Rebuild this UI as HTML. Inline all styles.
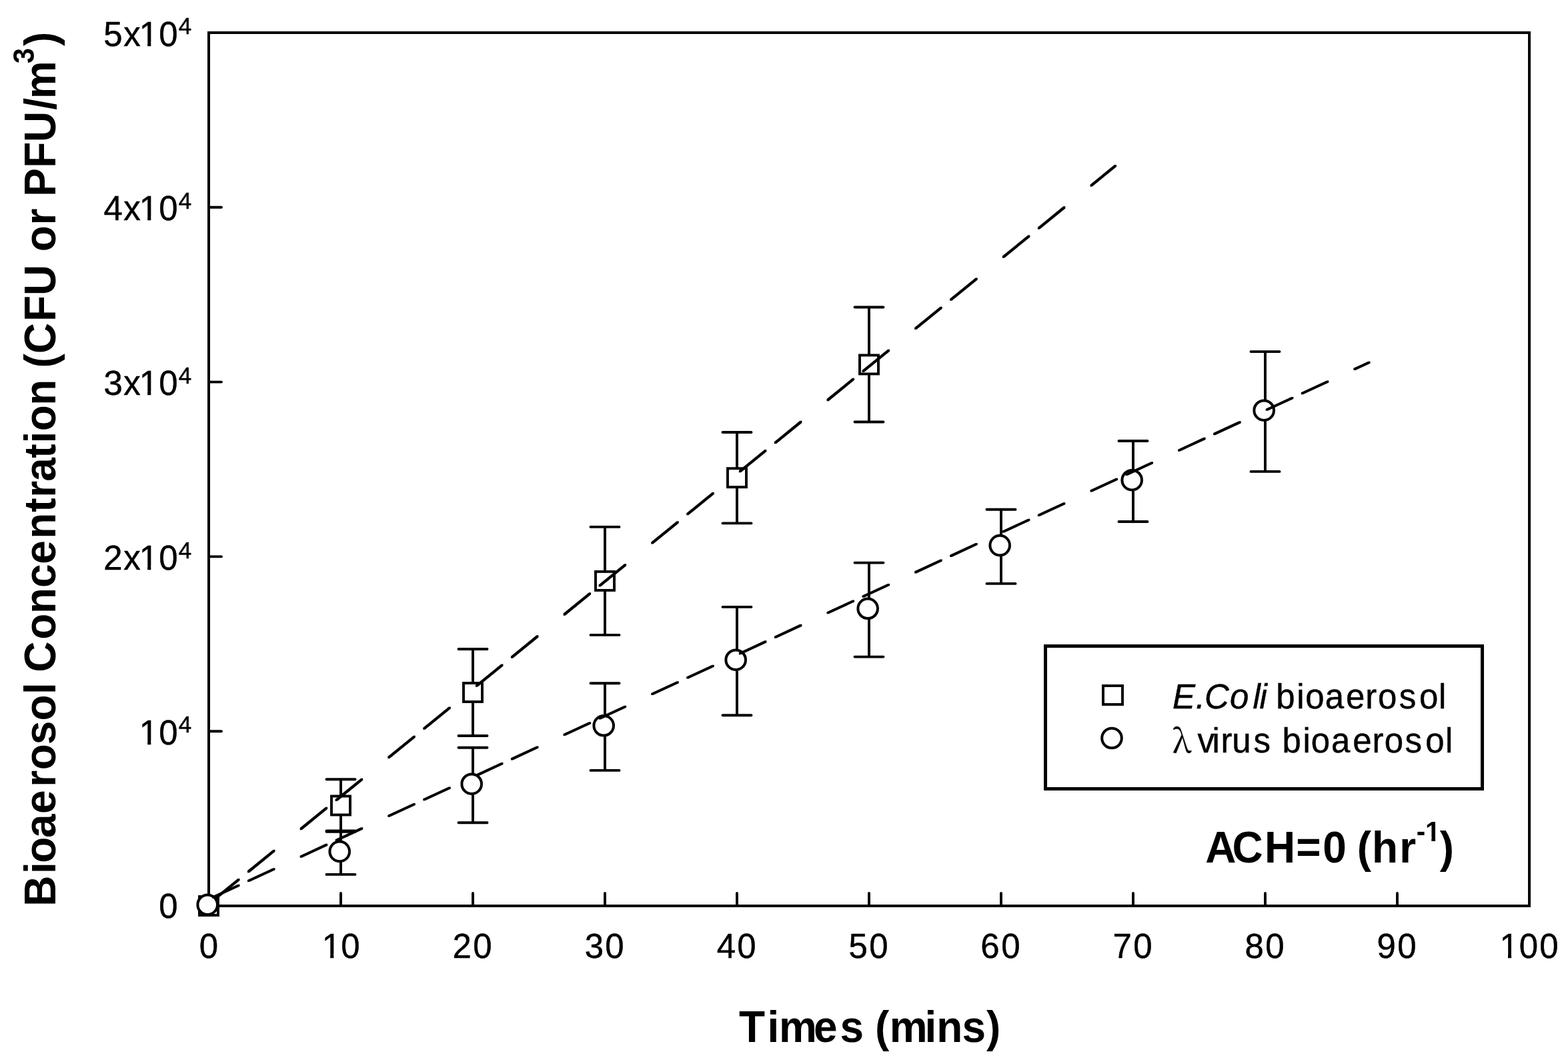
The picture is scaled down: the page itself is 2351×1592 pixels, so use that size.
<!DOCTYPE html><html><head><meta charset="utf-8"><title>Bioaerosol Concentration</title><style>html,body{margin:0;padding:0;background:#fff;}svg{display:block;}text{font-family:"Liberation Sans",Arial,sans-serif;fill:#000;}</style></head><body>
<svg width="2351" height="1592" viewBox="0 0 2351 1592">
<rect x="0" y="0" width="2351" height="1592" fill="#fff"/>
<rect x="313" y="49" width="1980" height="1309" fill="none" stroke="#000" stroke-width="4" stroke-linejoin="miter"/>
<path d="M511.0 1358V1339M709.0 1358V1339M907.0 1358V1339M1105.0 1358V1339M1303.0 1358V1339M1501.0 1358V1339M1699.0 1358V1339M1897.0 1358V1339M2095.0 1358V1339M313 1096.2H332M313 834.4H332M313 572.6H332M313 310.8H332" stroke="#000" stroke-width="3.9" stroke-linecap="round" fill="none"/>
<text xml:space="preserve" transform="matrix(1 0 0 1.0150 0 -21.534)" stroke="#000" stroke-width="0.45"><tspan x="298.82" y="1435.60" font-size="51">0</tspan></text>
<text xml:space="preserve" transform="matrix(1 0 0 1.0150 0 -21.534)" stroke="#000" stroke-width="0.45"><tspan x="482.67 511.22" y="1435.60" font-size="51">10</tspan></text>
<text xml:space="preserve" transform="matrix(1 0 0 1.0150 0 -21.534)" stroke="#000" stroke-width="0.45"><tspan x="678.52 709.22" y="1435.60" font-size="51">20</tspan></text>
<text xml:space="preserve" transform="matrix(1 0 0 1.0150 0 -21.534)" stroke="#000" stroke-width="0.45"><tspan x="876.67 907.22" y="1435.60" font-size="51">30</tspan></text>
<text xml:space="preserve" transform="matrix(1 0 0 1.0150 0 -21.534)" stroke="#000" stroke-width="0.45"><tspan x="1074.68 1105.22" y="1435.60" font-size="51">40</tspan></text>
<text xml:space="preserve" transform="matrix(1 0 0 1.0150 0 -21.534)" stroke="#000" stroke-width="0.45"><tspan x="1272.57 1303.22" y="1435.60" font-size="51">50</tspan></text>
<text xml:space="preserve" transform="matrix(1 0 0 1.0150 0 -21.534)" stroke="#000" stroke-width="0.45"><tspan x="1470.34 1501.22" y="1435.60" font-size="51">60</tspan></text>
<text xml:space="preserve" transform="matrix(1 0 0 1.0150 0 -21.534)" stroke="#000" stroke-width="0.45"><tspan x="1668.49 1699.22" y="1435.60" font-size="51">70</tspan></text>
<text xml:space="preserve" transform="matrix(1 0 0 1.0150 0 -21.534)" stroke="#000" stroke-width="0.45"><tspan x="1866.52 1897.22" y="1435.60" font-size="51">80</tspan></text>
<text xml:space="preserve" transform="matrix(1 0 0 1.0150 0 -21.534)" stroke="#000" stroke-width="0.45"><tspan x="2064.53 2095.22" y="1435.60" font-size="51">90</tspan></text>
<text xml:space="preserve" transform="matrix(1 0 0 1.0150 0 -21.534)" stroke="#000" stroke-width="0.45"><tspan x="2248.47 2277.77 2308.27" y="1435.60" font-size="51">100</tspan></text>
<text xml:space="preserve" transform="matrix(1 0 0 1.0150 0 -20.647)" stroke="#000" stroke-width="0.45"><tspan x="238.22" y="1376.50" font-size="51">0</tspan></text>
<text xml:space="preserve" transform="matrix(1 0 0 1.0150 0 -16.738)" stroke="#000" stroke-width="0.45"><tspan x="208.67 238.32" y="1115.90" font-size="51">10</tspan><tspan x="267.88" y="1097.87" font-size="35">4</tspan></text>
<text xml:space="preserve" transform="matrix(1 0 0 1.0150 0 -12.808)" stroke="#000" stroke-width="0.45"><tspan x="155.32 185.24 208.67 238.32" y="853.90" font-size="51">2x10</tspan><tspan x="267.88" y="837.15" font-size="35">4</tspan></text>
<text xml:space="preserve" transform="matrix(1 0 0 1.0150 0 -8.884)" stroke="#000" stroke-width="0.45"><tspan x="155.47 185.24 208.67 238.32" y="592.30" font-size="51">3x10</tspan><tspan x="267.88" y="574.86" font-size="35">4</tspan></text>
<text xml:space="preserve" transform="matrix(1 0 0 1.0150 0 -4.957)" stroke="#000" stroke-width="0.45"><tspan x="155.48 185.24 208.67 238.32" y="330.50" font-size="51">4x10</tspan><tspan x="267.88" y="313.06" font-size="35">4</tspan></text>
<text xml:space="preserve" transform="matrix(1 0 0 1.0150 0 -1.033)" stroke="#000" stroke-width="0.45"><tspan x="155.37 185.24 208.67 238.32" y="68.90" font-size="51">5x10</tspan><tspan x="267.88" y="51.07" font-size="35">4</tspan></text>
<path d="M511.0 1168.2V1246.8M489.5 1168.2H532.5M489.5 1246.8H532.5M709.0 973.0V1103.0M687.5 973.0H730.5M687.5 1103.0H730.5M907.0 789.9V951.9M885.5 789.9H928.5M885.5 951.9H928.5M1105.0 648.0V784.4M1083.5 648.0H1126.5M1083.5 784.4H1126.5M1303.0 460.5V632.5M1281.5 460.5H1324.5M1281.5 632.5H1324.5" stroke="#000" stroke-width="3.9" stroke-linecap="round" fill="none"/>
<rect x="299.0" y="1344.0" width="28" height="28" fill="#fff" stroke="#000" stroke-width="3.9"/>
<rect x="497.0" y="1193.5" width="28" height="28" fill="#fff" stroke="#000" stroke-width="3.9"/>
<rect x="695.0" y="1024.0" width="28" height="28" fill="#fff" stroke="#000" stroke-width="3.9"/>
<rect x="893.0" y="856.9" width="28" height="28" fill="#fff" stroke="#000" stroke-width="3.9"/>
<rect x="1091.0" y="702.2" width="28" height="28" fill="#fff" stroke="#000" stroke-width="3.9"/>
<rect x="1289.0" y="532.5" width="28" height="28" fill="#fff" stroke="#000" stroke-width="3.9"/>
<path d="M318.00 1348.26L356.45 1316.97L359.50 1316.97L359.50 1320.02L321.05 1351.31L318.00 1351.31ZM371.00 1305.12L409.45 1273.82L412.50 1273.82L412.50 1276.87L374.05 1308.17L371.00 1308.17ZM449.65 1241.10L488.10 1209.80L491.15 1209.80L491.15 1212.85L452.70 1244.15L449.65 1244.15ZM502.65 1197.96L541.10 1166.66L544.15 1166.66L544.15 1169.71L505.70 1201.01L502.65 1201.01ZM581.30 1133.94L619.75 1102.64L622.80 1102.64L622.80 1105.69L584.35 1136.99L581.30 1136.99ZM634.30 1090.80L672.75 1059.50L675.80 1059.50L675.80 1062.55L637.35 1093.85L634.30 1093.85ZM712.95 1026.77L751.40 995.48L754.45 995.48L754.45 998.53L716.00 1029.82L712.95 1029.82ZM765.95 983.63L804.40 952.33L807.45 952.33L807.45 955.38L769.00 986.68L765.95 986.68ZM844.60 919.61L883.05 888.31L886.10 888.31L886.10 891.36L847.65 922.66L844.60 922.66ZM897.60 876.47L936.05 845.17L939.10 845.17L939.10 848.22L900.65 879.52L897.60 879.52ZM976.25 812.45L1014.70 781.15L1017.75 781.15L1017.75 784.20L979.30 815.50L976.25 815.50ZM1029.25 769.31L1067.70 738.01L1070.75 738.01L1070.75 741.06L1032.30 772.36L1029.25 772.36ZM1107.90 705.29L1146.35 673.99L1149.40 673.99L1149.40 677.04L1110.95 708.34L1107.90 708.34ZM1160.90 662.14L1199.35 630.84L1202.40 630.84L1202.40 633.89L1163.95 665.19L1160.90 665.19ZM1239.55 598.12L1278.00 566.82L1281.05 566.82L1281.05 569.87L1242.60 601.17L1239.55 601.17ZM1292.55 554.98L1331.00 523.68L1334.05 523.68L1334.05 526.73L1295.60 558.03L1292.55 558.03ZM1371.20 490.96L1409.65 459.66L1412.70 459.66L1412.70 462.71L1374.25 494.01L1371.20 494.01ZM1424.20 447.82L1462.65 416.52L1465.70 416.52L1465.70 419.57L1427.25 450.87L1424.20 450.87ZM1502.85 383.80L1541.30 352.50L1544.35 352.50L1544.35 355.55L1505.90 386.85L1502.85 386.85ZM1555.85 340.65L1594.30 309.36L1597.35 309.36L1597.35 312.41L1558.90 343.70L1555.85 343.70ZM1634.50 276.63L1670.97 246.94L1674.03 246.94L1674.03 249.99L1637.55 279.68L1634.50 279.68Z" fill="#000"/>
<path d="M511.0 1245.5V1310.9M489.5 1245.5H532.5M489.5 1310.9H532.5M709.0 1120.8V1233.2M687.5 1120.8H730.5M687.5 1233.2H730.5M907.0 1024.2V1154.9M885.5 1024.2H928.5M885.5 1154.9H928.5M1105.0 909.9V1072.2M1083.5 909.9H1126.5M1083.5 1072.2H1126.5M1303.0 843.6V984.6M1281.5 843.6H1324.5M1281.5 984.6H1324.5M1501.0 763.8V874.9M1479.5 763.8H1522.5M1479.5 874.9H1522.5M1699.0 661.0V782.0M1677.5 661.0H1720.5M1677.5 782.0H1720.5M1897.0 527.1V706.9M1875.5 527.1H1918.5M1875.5 706.9H1918.5" stroke="#000" stroke-width="3.9" stroke-linecap="round" fill="none"/>
<circle cx="311.2" cy="1356.2" r="14.8" fill="#fff" stroke="#000" stroke-width="4"/>
<circle cx="509.2" cy="1276.4" r="14.8" fill="#fff" stroke="#000" stroke-width="4"/>
<circle cx="707.2" cy="1175.2" r="14.8" fill="#fff" stroke="#000" stroke-width="4"/>
<circle cx="905.2" cy="1087.8" r="14.8" fill="#fff" stroke="#000" stroke-width="4"/>
<circle cx="1103.2" cy="989.2" r="14.8" fill="#fff" stroke="#000" stroke-width="4"/>
<circle cx="1301.2" cy="912.3" r="14.8" fill="#fff" stroke="#000" stroke-width="4"/>
<circle cx="1499.2" cy="817.6" r="14.8" fill="#fff" stroke="#000" stroke-width="4"/>
<circle cx="1697.2" cy="719.7" r="14.8" fill="#fff" stroke="#000" stroke-width="4"/>
<circle cx="1895.2" cy="615.2" r="14.8" fill="#fff" stroke="#000" stroke-width="4"/>
<path d="M318.00 1343.56L356.45 1325.77L359.50 1325.77L359.50 1328.82L321.05 1346.61L318.00 1346.61ZM371.00 1319.04L409.45 1301.25L412.50 1301.25L412.50 1304.30L374.05 1322.09L371.00 1322.09ZM449.65 1282.66L488.10 1264.87L491.15 1264.87L491.15 1267.92L452.70 1285.71L449.65 1285.71ZM502.65 1258.14L541.10 1240.35L544.15 1240.35L544.15 1243.40L505.70 1261.19L502.65 1261.19ZM581.30 1221.75L619.75 1203.97L622.80 1203.97L622.80 1207.02L584.35 1224.80L581.30 1224.80ZM634.30 1197.24L672.75 1179.45L675.80 1179.45L675.80 1182.50L637.35 1200.29L634.30 1200.29ZM712.95 1160.85L751.40 1143.07L754.45 1143.07L754.45 1146.12L716.00 1163.90L712.95 1163.90ZM765.95 1136.33L804.40 1118.55L807.45 1118.55L807.45 1121.60L769.00 1139.38L765.95 1139.38ZM844.60 1099.95L883.05 1082.16L886.10 1082.16L886.10 1085.21L847.65 1103.00L844.60 1103.00ZM897.60 1075.43L936.05 1057.65L939.10 1057.65L939.10 1060.70L900.65 1078.48L897.60 1078.48ZM976.25 1039.05L1014.70 1021.26L1017.75 1021.26L1017.75 1024.31L979.30 1042.10L976.25 1042.10ZM1029.25 1014.53L1067.70 996.75L1070.75 996.75L1070.75 999.80L1032.30 1017.58L1029.25 1017.58ZM1107.90 978.15L1146.35 960.36L1149.40 960.36L1149.40 963.41L1110.95 981.20L1107.90 981.20ZM1160.90 953.63L1199.35 935.84L1202.40 935.84L1202.40 938.89L1163.95 956.68L1160.90 956.68ZM1239.55 917.25L1278.00 899.46L1281.05 899.46L1281.05 902.51L1242.60 920.30L1239.55 920.30ZM1292.55 892.73L1331.00 874.94L1334.05 874.94L1334.05 877.99L1295.60 895.78L1292.55 895.78ZM1371.20 856.35L1409.65 838.56L1412.70 838.56L1412.70 841.61L1374.25 859.40L1371.20 859.40ZM1424.20 831.83L1462.65 814.04L1465.70 814.04L1465.70 817.09L1427.25 834.88L1424.20 834.88ZM1502.85 795.44L1541.30 777.66L1544.35 777.66L1544.35 780.71L1505.90 798.49L1502.85 798.49ZM1555.85 770.93L1594.30 753.14L1597.35 753.14L1597.35 756.19L1558.90 773.98L1555.85 773.98ZM1634.50 734.54L1672.95 716.76L1676.00 716.76L1676.00 719.81L1637.55 737.59L1634.50 737.59ZM1687.50 710.03L1725.95 692.24L1729.00 692.24L1729.00 695.29L1690.55 713.08L1687.50 713.08ZM1766.15 673.64L1804.60 655.86L1807.65 655.86L1807.65 658.91L1769.20 676.69L1766.15 676.69ZM1819.15 649.12L1857.60 631.34L1860.65 631.34L1860.65 634.39L1822.20 652.17L1819.15 652.17ZM1897.80 612.74L1936.25 594.95L1939.30 594.95L1939.30 598.00L1900.85 615.79L1897.80 615.79ZM1950.80 588.22L1989.25 570.44L1992.30 570.44L1992.30 573.49L1953.85 591.27L1950.80 591.27ZM2029.45 551.84L2051.47 541.65L2054.53 541.65L2054.53 544.70L2032.50 554.89L2029.45 554.89Z" fill="#000"/>
<rect x="1567.5" y="968.5" width="655" height="214" fill="none" stroke="#000" stroke-width="5"/>
<rect x="1654" y="1028" width="29" height="28" fill="#fff" stroke="#000" stroke-width="3.9"/>
<circle cx="1667" cy="1106.5" r="14.8" fill="#fff" stroke="#000" stroke-width="4"/>
<text xml:space="preserve" transform="matrix(1 0 0 1.0150 0 -15.930)" stroke="#000" stroke-width="0.45"><tspan x="1757.92 1792.69 1805.89 1844.04 1878.45 1888.60" y="1062.00" font-size="51" font-style="italic">E.Coli</tspan><tspan x="1906.00 1913.30 1944.15 1957.32 1986.83 2018.02 2047.34 2066.07 2097.81 2128.07 2156.92" y="1062.00" font-size="51"> bioaerosol</tspan></text>
<text x="1758" y="1127.7" font-size="48.5" style="font-family:'Noto Serif CJK SC',serif" stroke="#000" stroke-width="0.3">&#955;</text>
<text xml:space="preserve" transform="matrix(1 0 0 1.0150 0 -16.915)" stroke="#000" stroke-width="0.45"><tspan x="1791.00 1795.55 1817.45 1830.44 1847.31 1879.46 1914.00 1922.60 1953.40 1965.72 1996.03 2028.22 2057.54 2075.77 2106.56 2137.27 2167.07" y="1127.70" font-size="51"> virus bioaerosol</tspan></text>
<text xml:space="preserve" transform="matrix(1 0 0 1.0405 0 -52.307)"><tspan x="1807.29 1847.45 1895.91 1943.20 1983.20 2025.00 2034.88 2057.10 2098.32" y="1293.00" font-size="64" font-weight="bold">ACH=0 (hr</tspan><tspan x="2123.73 2136.99" y="1262.24" font-size="40.5" font-weight="bold">-1</tspan><tspan x="2158.86" y="1293.00" font-size="64" font-weight="bold">)</tspan></text>
<text xml:space="preserve" transform="matrix(1 0 0 1.0405 0 -63.181)"><tspan x="1107.94 1150.59 1167.92 1220.05 1259.39 1300.00 1311.91 1333.87 1386.59 1404.28 1442.49 1478.96" y="1561.80" font-size="64" font-weight="bold">Times (mins)</tspan></text>
<text xml:space="preserve" transform="translate(83 1358) rotate(-90) scale(1 1.0405)"><tspan x="-0.80 47.99 64.20 101.96 138.05 178.27 203.75 241.69 277.50 316.89 342.00 350.20 399.30 438.13 477.04 512.35 550.18 590.34 612.27 636.31 671.29 693.54 711.75 750.13 798.00 806.53 827.65 876.03 915.07 970.00 980.70 1020.57 1057.00 1063.26 1106.13 1145.02 1193.21 1209.87" y="0.00" font-size="64" font-weight="bold">Bioaerosol Concentration (CFU or PFU/m</tspan><tspan x="1262.70" y="-30.37" font-size="42" font-weight="bold">3</tspan><tspan x="1289.06" y="0.00" font-size="64" font-weight="bold">)</tspan></text>
<g fill="#fff"><rect x="485.75" y="1430.03" width="9.41" height="7.17"/><rect x="500.33" y="1430.03" width="9.02" height="7.17"/><rect x="2251.55" y="1430.03" width="9.41" height="7.17"/><rect x="2266.12" y="1430.03" width="9.02" height="7.17"/><rect x="211.75" y="1110.33" width="9.41" height="7.17"/><rect x="226.32" y="1110.33" width="9.02" height="7.17"/><rect x="211.75" y="848.33" width="9.41" height="7.17"/><rect x="226.32" y="848.33" width="9.02" height="7.17"/><rect x="211.75" y="586.73" width="9.41" height="7.17"/><rect x="226.32" y="586.73" width="9.02" height="7.17"/><rect x="211.75" y="324.93" width="9.41" height="7.17"/><rect x="226.32" y="324.93" width="9.02" height="7.17"/><rect x="211.75" y="63.33" width="9.41" height="7.17"/><rect x="226.32" y="63.33" width="9.02" height="7.17"/><rect x="2138.74" y="1255.00" width="7.60" height="7.60"/><rect x="2152.10" y="1255.00" width="7.09" height="7.60"/></g>
</svg></body></html>
